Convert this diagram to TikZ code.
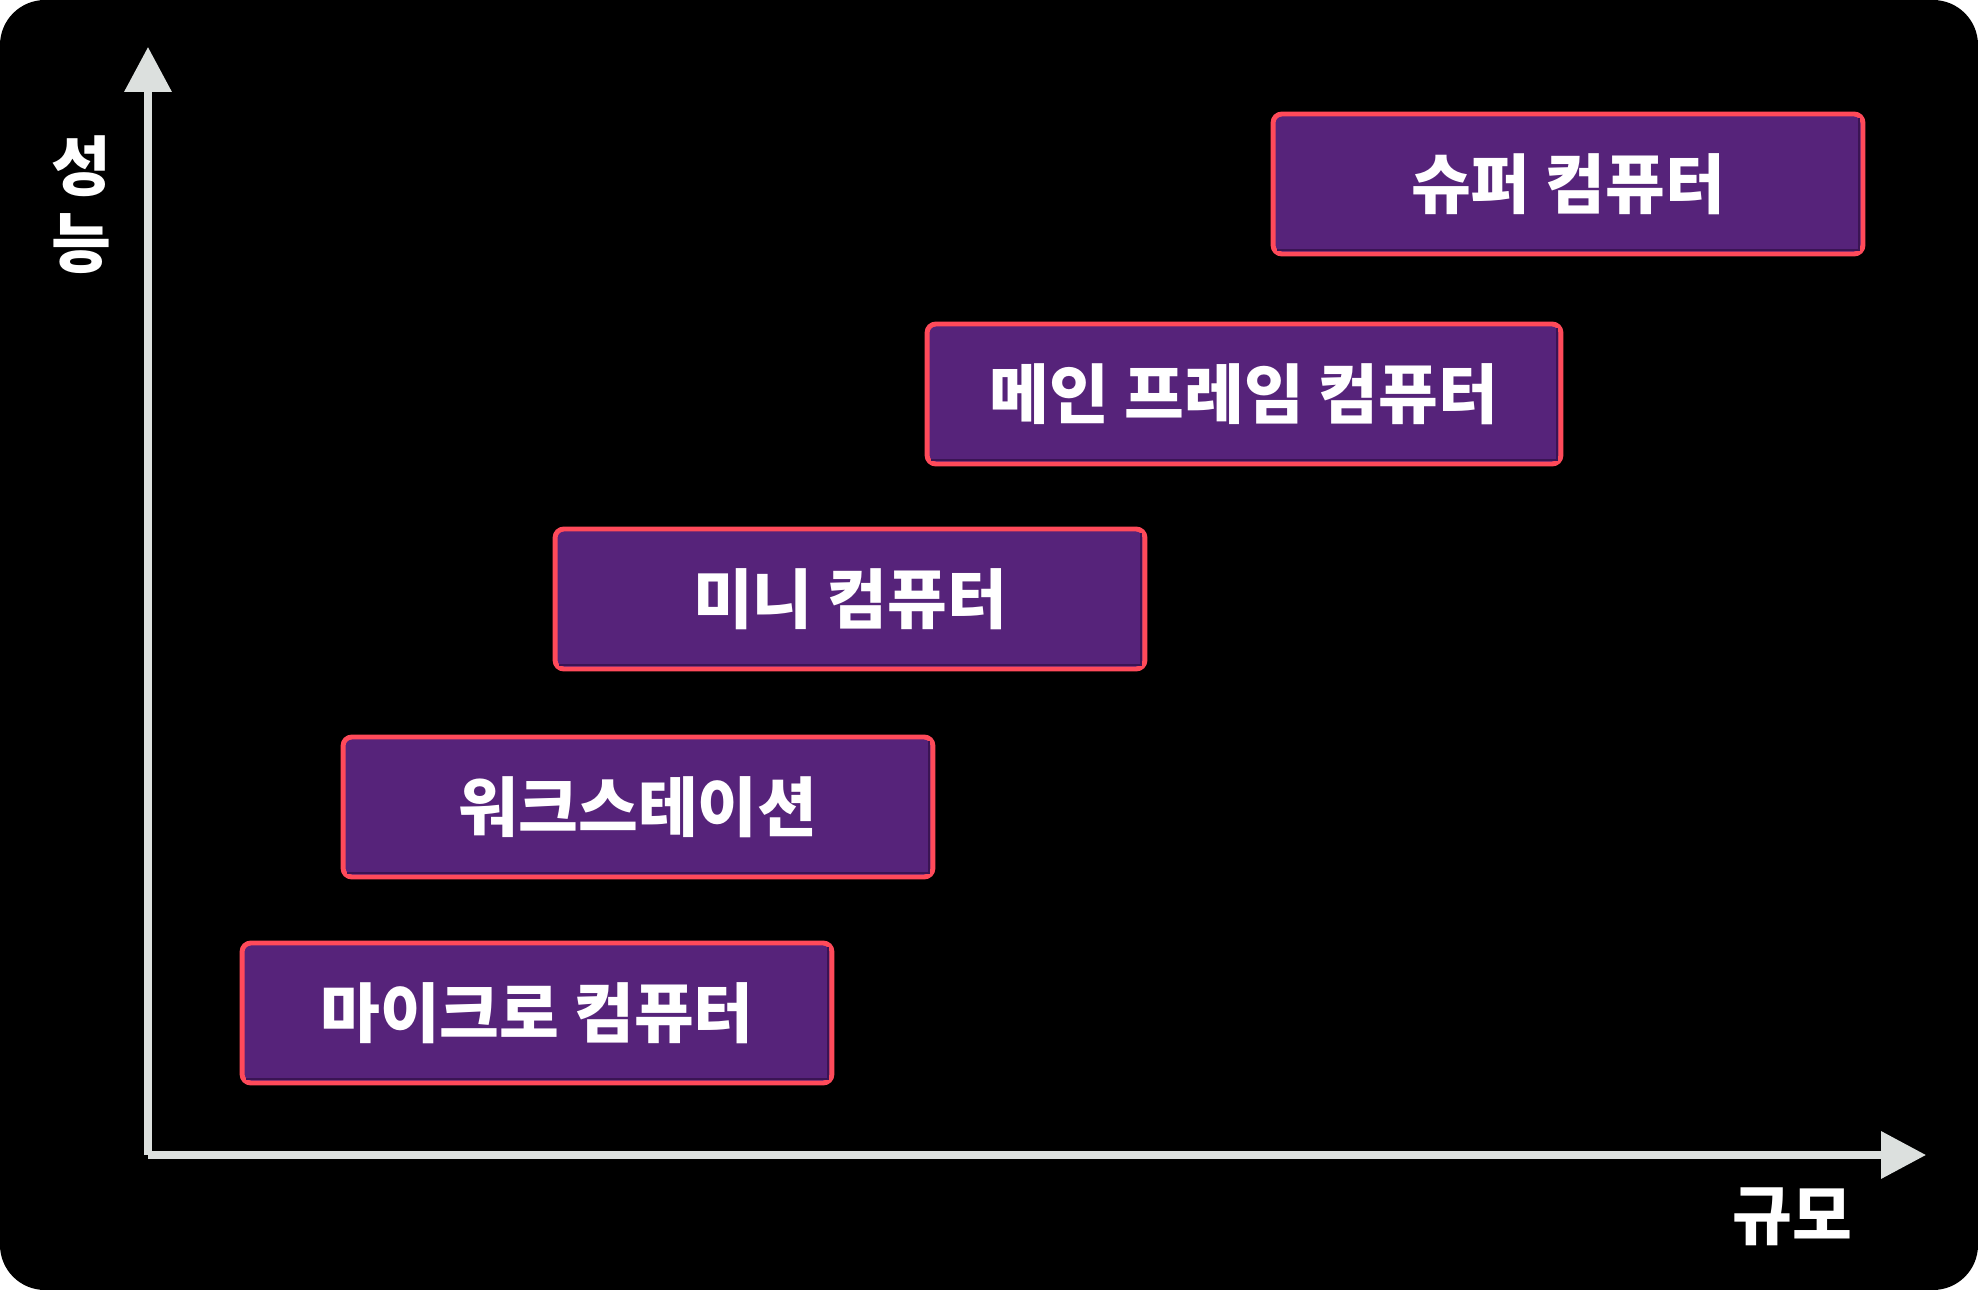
\documentclass[tikz,border=0pt]{standalone}
\usepackage{fontspec}
\setmainfont{Noto Sans CJK KR}
\usetikzlibrary{arrows.meta,positioning}
\definecolor{boxfill}{RGB}{86,35,122}
\definecolor{boxedge}{RGB}{255,74,90}
\definecolor{boxdark}{RGB}{58,20,84}
\definecolor{axisgray}{RGB}{220,224,222}

\begin{document}
\begin{tikzpicture}[x=0.02cm,y=-0.02cm,
  sys/.style={draw=boxedge,fill=boxfill,line width=2.8pt,rounded corners=5pt,minimum width=11.8cm,minimum height=2.8cm,text=white,font=\fontsize{37}{42}\selectfont\bfseries},
  bevel/.style={draw=boxdark,line width=1.6pt},
  ax/.style={draw=axisgray,line width=4pt,-{Triangle[width=0.92cm,length=0.9cm]}},
  lbl/.style={text=white,font=\fontsize{37}{44}\selectfont\bfseries,align=center}
]
% Background
\useasboundingbox (0,0) rectangle (1978,1290);
\fill[white] (0,0) rectangle (1978,1290);
\fill[black,rounded corners=0.9cm] (0,0) rectangle (1978,1290);

% Axes
\coordinate (o)    at (148,1155);
\coordinate (ytip) at (148,47);
\coordinate (xtip) at (1926,1155);
\draw[ax] (o) -- (ytip);
\draw[ax] (o) -- (xtip);
\node[lbl] (perf)  at (81,205)   {성\\능};
\node[lbl] (scale) at (1792,1217) {규모};

% Computer classes
\node[sys]                          (mic)  at (537,1013) {마이크로 컴퓨터};
\node[sys]                          (ws)   at (638,807)  {워크스테이션};
\node[sys]                          (mini) at (850,599)  {미니 컴퓨터};
\node[sys,minimum width=12.68cm]    (mf)   at (1244,394) {메인 프레임 컴퓨터};
\node[sys]                          (sc)   at (1568,184) {슈퍼 컴퓨터};

% Inner shading
\foreach \n in {mic,ws,mini,mf,sc}
  \draw[bevel] ([xshift=0.13cm,yshift=0.13cm]\n.south west) -- ([xshift=-0.13cm,yshift=0.13cm]\n.south east)
               -- ([xshift=-0.13cm,yshift=-0.13cm]\n.north east);
\end{tikzpicture}
\end{document}
